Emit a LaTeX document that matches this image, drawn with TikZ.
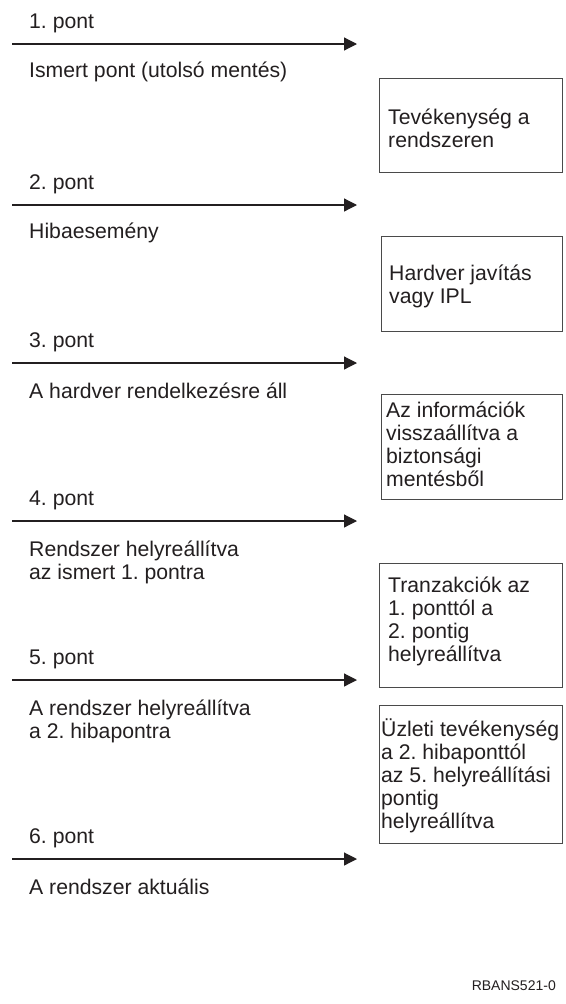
\documentclass[tikz,border=0pt]{standalone}
\usepackage{fontspec}
\setmainfont{Liberation Sans}
\usetikzlibrary{arrows.meta}
\definecolor{ink}{HTML}{231F20}
\definecolor{frame}{HTML}{4A4A4A}
\frenchspacing
\tikzset{
  flow/.style={draw=ink, line width=1.2pt, -{Triangle[length=13pt,width=13pt]}},
  pointlabel/.style={anchor=base west, inner sep=0pt, text=ink, font=\fontsize{21.2}{23}\selectfont},
  desclabel/.style={anchor=west, inner sep=0pt, align=left, text=ink, font=\fontsize{21.2}{23}\selectfont},
  notebox/.style={draw=frame, line width=1pt, anchor=north west, inner sep=0pt},
  boxtext/.style={anchor=west, inner sep=0pt, align=left, text=ink, font=\fontsize{21.2}{23}\selectfont},
  figid/.style={anchor=base east, inner sep=0pt, text=ink, font=\fontsize{14}{16}\selectfont},
}
\begin{document}
\begin{tikzpicture}[x=1pt,y=-1pt]
\path[use as bounding box, fill=white] (0,0) rectangle (565,1004);

% timeline arrows, one per point
\foreach \n/\y in {1/44, 2/205, 3/363, 4/521, 5/680, 6/859} {
  \coordinate (s\n) at (12,\y);
  \coordinate (e\n) at (357,\y);
  \draw[flow] (s\n) -- (e\n);
  \node[pointlabel] (p\n) at (29,\y-16) {\n. pont};
}

% states reached at each point
\node[desclabel] (d1) at (29,72) {Ismert pont (utolsó mentés)};
\node[desclabel] (d2) at (29,233) {Hibaesemény};
\node[desclabel] (d3) at (29,391) {A hardver rendelkezésre áll};
\node[desclabel] (d4) at (29,562) {Rendszer helyreállítva\\az ismert 1. pontra};
\node[desclabel] (d5) at (29,721) {A rendszer helyreállítva\\a 2. hibapontra};
\node[desclabel] (d6) at (29,887) {A rendszer aktuális};

% activities between the points
\node[notebox, minimum width=183pt, minimum height=94pt] (b1) at (379,78) {};
\node[boxtext, xshift=9pt, yshift=-3pt] (t1) at (b1.west) {Tevékenység a\\rendszeren};

\node[notebox, minimum width=181pt, minimum height=95pt] (b2) at (381,236) {};
\node[boxtext, xshift=8pt, yshift=-2pt] (t2) at (b2.west) {Hardver javítás\\vagy IPL};

\node[notebox, minimum width=181pt, minimum height=105pt] (b3) at (381,394) {};
\node[boxtext, xshift=5pt, yshift=3pt] (t3) at (b3.west) {Az információk\\visszaállítva a\\biztonsági\\mentésből};

\node[notebox, minimum width=183pt, minimum height=124pt] (b4) at (379,563) {};
\node[boxtext, xshift=9pt, yshift=4pt] (t4) at (b4.west) {Tranzakciók az\\1. ponttól a\\2. pontig\\helyreállítva};

\node[notebox, minimum width=183pt, minimum height=138pt] (b5) at (379,705) {};
\node[boxtext, xshift=2pt, yshift=-1pt] (t5) at (b5.west) {Üzleti tevékenység\\a 2. hibaponttól\\az 5. helyreállítási\\pontig\\helyreállítva};

\node[figid] (fid) at (556,990) {RBANS521-0};
\end{tikzpicture}
\end{document}
